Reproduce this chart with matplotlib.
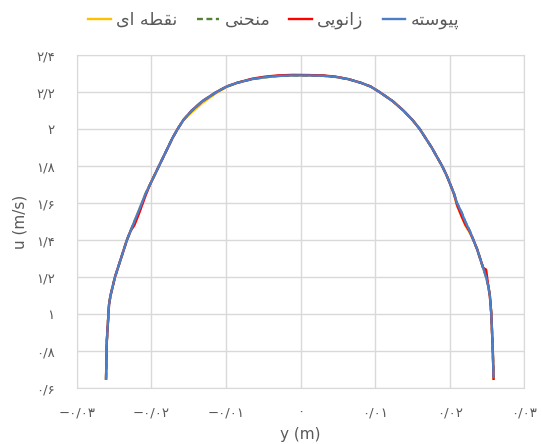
import matplotlib
matplotlib.use("Agg")
import matplotlib.pyplot as plt
from matplotlib.ticker import FixedLocator, FixedFormatter

# lateral position y (m)
y_pos = [-0.0261, -0.02605, -0.0260, -0.02585, -0.0257, -0.0255, -0.0252, -0.0249,
         -0.0245, -0.0241, -0.0237, -0.0233, -0.0228, -0.0223, -0.0218, -0.0213,
         -0.0208, -0.0202, -0.0196, -0.0190, -0.0184, -0.0178, -0.0172, -0.0165,
         -0.0157, -0.0146, -0.0132, -0.0113, -0.0099, -0.0085, -0.0065, -0.0048,
         -0.0030, -0.0010, 0.0010, 0.0030, 0.0047, 0.0064, 0.0081, 0.0094, 0.0106,
         0.0124, 0.0138, 0.0150, 0.0160, 0.0168, 0.0176, 0.0183, 0.0190, 0.0196,
         0.0201, 0.0206, 0.0210, 0.0216, 0.0221, 0.0227, 0.0232, 0.0237, 0.0241,
         0.0245, 0.0249, 0.0252, 0.0254, 0.0255, 0.0256, 0.0257, 0.0258, 0.0259]

# velocity u (m/s) for each method
u_peyvaste = [0.65, 0.75, 0.85, 0.95, 1.05, 1.10, 1.15, 1.20, 1.25, 1.30, 1.35, 1.40,
              1.45, 1.50, 1.55, 1.60, 1.65, 1.70, 1.75, 1.80, 1.85, 1.90, 1.95, 2.00,
              2.05, 2.10, 2.15, 2.20, 2.23, 2.25, 2.27, 2.28, 2.287, 2.29, 2.29, 2.288,
              2.282, 2.27, 2.25, 2.23, 2.20, 2.15, 2.10, 2.05, 2.00, 1.95, 1.90, 1.85,
              1.80, 1.75, 1.70, 1.65, 1.60, 1.55, 1.50, 1.45, 1.40, 1.35, 1.30, 1.25,
              1.20, 1.15, 1.10, 1.05, 1.00, 0.90, 0.80, 0.66]
u_zanooyi = [0.65, 0.75, 0.85, 0.95, 1.05, 1.10, 1.15, 1.20, 1.25, 1.30, 1.35, 1.40,
             1.45, 1.48, 1.53, 1.585, 1.64, 1.70, 1.75, 1.80, 1.85, 1.90, 1.95, 2.00,
             2.05, 2.10, 2.15, 2.20, 2.23, 2.25, 2.272, 2.283, 2.29, 2.293, 2.292, 2.29,
             2.283, 2.27, 2.25, 2.23, 2.20, 2.15, 2.10, 2.05, 2.00, 1.95, 1.90, 1.85,
             1.80, 1.75, 1.70, 1.65, 1.59, 1.53, 1.485, 1.445, 1.40, 1.35, 1.30, 1.25,
             1.24, 1.15, 1.10, 1.05, 1.00, 0.90, 0.80, 0.65]
u_monhani = [0.65, 0.75, 0.85, 0.95, 1.05, 1.10, 1.15, 1.20, 1.25, 1.30, 1.35, 1.40,
             1.45, 1.50, 1.535, 1.59, 1.65, 1.70, 1.75, 1.80, 1.85, 1.90, 1.95, 2.00,
             2.05, 2.10, 2.15, 2.20, 2.23, 2.25, 2.27, 2.28, 2.287, 2.29, 2.29, 2.288,
             2.282, 2.27, 2.25, 2.23, 2.20, 2.15, 2.10, 2.05, 2.00, 1.95, 1.90, 1.85,
             1.80, 1.75, 1.70, 1.65, 1.60, 1.55, 1.50, 1.45, 1.40, 1.35, 1.30, 1.25,
             1.20, 1.15, 1.10, 1.05, 1.00, 0.90, 0.80, 0.66]
u_noghte = [0.65, 0.75, 0.85, 0.95, 1.05, 1.10, 1.15, 1.20, 1.25, 1.30, 1.35, 1.40,
            1.45, 1.50, 1.55, 1.60, 1.65, 1.70, 1.75, 1.80, 1.85, 1.90, 1.95, 2.00,
            2.05, 2.09, 2.14, 2.195, 2.228, 2.25, 2.27, 2.28, 2.287, 2.29, 2.29, 2.288,
            2.282, 2.27, 2.25, 2.23, 2.20, 2.15, 2.10, 2.05, 2.00, 1.95, 1.90, 1.85,
            1.80, 1.75, 1.70, 1.645, 1.585, 1.53, 1.48, 1.44, 1.40, 1.35, 1.30, 1.25,
            1.20, 1.15, 1.10, 1.05, 1.00, 0.90, 0.80, 0.65]

# legend names, pre-shaped Persian glyphs in visual (left-to-right) order
name_peyvaste = "\uFEEA\uFE98\uFEB3\uFEEE\uFBFF\uFB58"   # پیوسته
name_zanooyi = "\uFBFD\uFBFE\uFEEE\uFEE7\uFE8D\uFEAF"    # زانویی
name_monhani = "\uFBFD\uFEE8\uFEA4\uFEE8\uFEE3"          # منحنی
name_noghte = "\uFBFC\uFE8D \uFEEA\uFEC4\uFED8\uFEE7"    # نقطه ای

x_ticks = [-0.03, -0.02, -0.01, 0.0, 0.01, 0.02, 0.03]
x_labels = ["\u2212\u06F0/\u06F0\u06F3", "\u2212\u06F0/\u06F0\u06F2", "\u2212\u06F0/\u06F0\u06F1",
            "\u06F0", "\u06F0/\u06F0\u06F1", "\u06F0/\u06F0\u06F2", "\u06F0/\u06F0\u06F3"]
y_ticks = [0.6, 0.8, 1.0, 1.2, 1.4, 1.6, 1.8, 2.0, 2.2, 2.4]
y_labels = ["\u06F0/\u06F6", "\u06F0/\u06F8", "\u06F1", "\u06F1/\u06F2", "\u06F1/\u06F4",
            "\u06F1/\u06F6", "\u06F1/\u06F8", "\u06F2", "\u06F2/\u06F2", "\u06F2/\u06F4"]

plt.rcParams['font.family'] = ['DejaVu Sans']
grey = '#595959'

fig = plt.figure(figsize=(5.42, 4.44), dpi=100)
ax = fig.add_axes([0.142, 0.126, 0.825, 0.750])

ax.plot(y_pos, u_noghte, color='#FFC000', lw=1.7, label=name_noghte)
ax.plot(y_pos, u_monhani, color='#548235', lw=1.7, ls=(0, (2.5, 1.5)), label=name_monhani)
ax.plot(y_pos, u_zanooyi, color='#FF0000', lw=1.7, label=name_zanooyi)
ax.plot(y_pos, u_peyvaste, color='#4A7EC9', lw=1.7, label=name_peyvaste)

ax.set_xlim(-0.03, 0.03)
ax.set_ylim(0.6, 2.4)
ax.xaxis.set_major_locator(FixedLocator(x_ticks))
ax.xaxis.set_major_formatter(FixedFormatter(x_labels))
ax.yaxis.set_major_locator(FixedLocator(y_ticks))
ax.yaxis.set_major_formatter(FixedFormatter(y_labels))
ax.tick_params(length=0, colors=grey, labelsize=9.5)
ax.tick_params(axis='y', pad=16)
ax.tick_params(axis='x', pad=13)
ax.grid(True, color='#D9D9D9', lw=1)
ax.set_axisbelow(True)
for s in ax.spines.values():
    s.set_color('#D9D9D9')

ax.set_xlabel('y (m)', color=grey, fontsize=11, labelpad=6)
ax.set_ylabel('u (m/s)', color=grey, fontsize=11, labelpad=6)

fig.legend(loc='center', bbox_to_anchor=(0.505, 0.955), ncol=4, frameon=False,
           fontsize=12.5, labelcolor=grey, handlelength=1.3, columnspacing=1.1,
           handletextpad=0.3)

fig.savefig('out.png', dpi=100)
